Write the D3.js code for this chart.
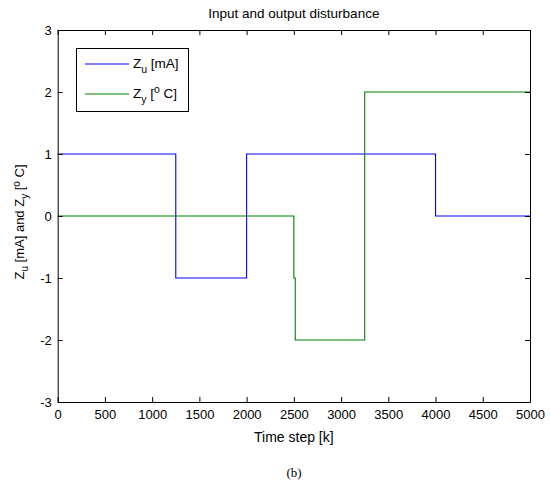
<!DOCTYPE html>
<html>
<head>
<meta charset="utf-8">
<script src="https://cdn.jsdelivr.net/npm/d3@7"></script>
<style>
  body { margin: 0; background: #fff; }
  text { font-family: "Liberation Sans", Arial, sans-serif; }
</style>
</head>
<body>
<div id="chart"></div>
<script>
// step points (value holds until next k)
const zuK = [0, 1250, 2000, 4000, 5000];
const zuV = [1, -1, 1, 0, 0];
const zyK = [0, 2500, 2515, 3250, 5000];
const zyV = [0, -1, -2, 2, 2];
const xTicks = [0, 500, 1000, 1500, 2000, 2500, 3000, 3500, 4000, 4500, 5000];
const yTicks = [-3, -2, -1, 0, 1, 2, 3];

const W = 550, H = 484;
const margin = { left: 57.7, right: 20, top: 30, bottom: 82 };

const svg = d3.select("#chart").append("svg")
    .attr("width", W)
    .attr("height", H);

const x = d3.scaleLinear().domain([0, 5000]).range([margin.left, W - margin.right]);
const y = d3.scaleLinear().domain([-3, 3]).range([H - margin.bottom, margin.top]);

const line = d3.line()
    .x(d => x(d[0]))
    .y(d => y(d[1]))
    .curve(d3.curveStepAfter);

const zu = zuK.map((k, i) => [k, zuV[i]]);
const zy = zyK.map((k, i) => [k, zyV[i]]);

svg.append("path").datum(zu)
    .attr("fill", "none").attr("stroke", "#0000ff").attr("stroke-width", 1.1)
    .attr("d", line);
svg.append("path").datum(zy)
    .attr("fill", "none").attr("stroke", "#008000").attr("stroke-width", 1.1)
    .attr("d", line);

// axes, ticks inside on all four sides
const tl = 5;
const fmt = d => String(d); // plain hyphen minus like matlab
const axB = svg.append("g").attr("transform", `translate(0,${y(-3)})`)
    .call(d3.axisBottom(x).tickValues(xTicks).tickFormat(fmt).tickSizeInner(-tl).tickSizeOuter(0).tickPadding(8));
const axT = svg.append("g").attr("transform", `translate(0,${y(3)})`)
    .call(d3.axisTop(x).tickValues(xTicks).tickSizeInner(-tl).tickSizeOuter(0).tickFormat(""));
const axL = svg.append("g").attr("transform", `translate(${x(0)},0)`)
    .call(d3.axisLeft(y).tickValues(yTicks).tickFormat(fmt).tickSizeInner(-tl).tickSizeOuter(0).tickPadding(6));
const axR = svg.append("g").attr("transform", `translate(${x(5000)},0)`)
    .call(d3.axisRight(y).tickValues(yTicks).tickSizeInner(-tl).tickSizeOuter(0).tickFormat(""));

[axB, axT, axL, axR].forEach(g => {
    g.selectAll("path").attr("stroke", "#000").attr("stroke-width", 1);
    g.selectAll("line").attr("stroke", "#000");
    g.selectAll("text").attr("font-size", 13).attr("fill", "#000")
        .style("font-family", "'Liberation Sans', Arial, sans-serif");
});

// title and labels
svg.append("text")
    .attr("x", (x(0) + x(5000)) / 2).attr("y", 18)
    .attr("text-anchor", "middle").attr("font-size", 13.5)
    .text("Input and output disturbance");

svg.append("text")
    .attr("x", (x(0) + x(5000)) / 2).attr("y", 442)
    .attr("text-anchor", "middle").attr("font-size", 14)
    .text("Time step [k]");

const yl = svg.append("text")
    .attr("transform", `translate(24,${y(0) + 6}) rotate(-90)`)
    .attr("text-anchor", "middle").attr("font-size", 13);
yl.append("tspan").text("Z");
yl.append("tspan").attr("font-size", 10).attr("dy", 4).text("u");
yl.append("tspan").attr("dy", -4).text(" [mA] and Z");
yl.append("tspan").attr("font-size", 10).attr("dy", 4).text("y");
yl.append("tspan").attr("dy", -4).text(" [");
yl.append("tspan").attr("font-size", 10).attr("dy", -4).text("o");
yl.append("tspan").attr("dy", 4).text(" C]");

svg.append("text")
    .attr("x", 294).attr("y", 477)
    .attr("text-anchor", "middle").attr("font-size", 13)
    .style("font-family", "'Liberation Serif', 'Times New Roman', serif")
    .text("(b)");

// legend
const lg = svg.append("g");
lg.append("rect")
    .attr("x", 76.5).attr("y", 48.5).attr("width", 112).attr("height", 63)
    .attr("fill", "#fff").attr("stroke", "#000").attr("stroke-width", 1);

const series = [
    { name: "u", unit: " [mA]", color: "#0000ff", deg: false },
    { name: "y", unit: " C]", color: "#008000", deg: true }
];
series.forEach((s, i) => {
    const ly = 64 + i * 30;
    lg.append("line")
        .attr("x1", 85).attr("x2", 129).attr("y1", ly).attr("y2", ly)
        .attr("stroke", s.color).attr("stroke-width", 1.1);
    const t = lg.append("text").attr("x", 133).attr("y", ly + 4).attr("font-size", 13.5);
    t.append("tspan").text("Z");
    t.append("tspan").attr("font-size", 10.5).attr("dy", 5).text(s.name);
    if (s.deg) {
        t.append("tspan").attr("dy", -5).text(" [");
        t.append("tspan").attr("font-size", 10.5).attr("dy", -5).text("o");
        t.append("tspan").attr("dy", 5).text(s.unit);
    } else {
        t.append("tspan").attr("dy", -5).text(s.unit);
    }
});
</script>
</body>
</html>
